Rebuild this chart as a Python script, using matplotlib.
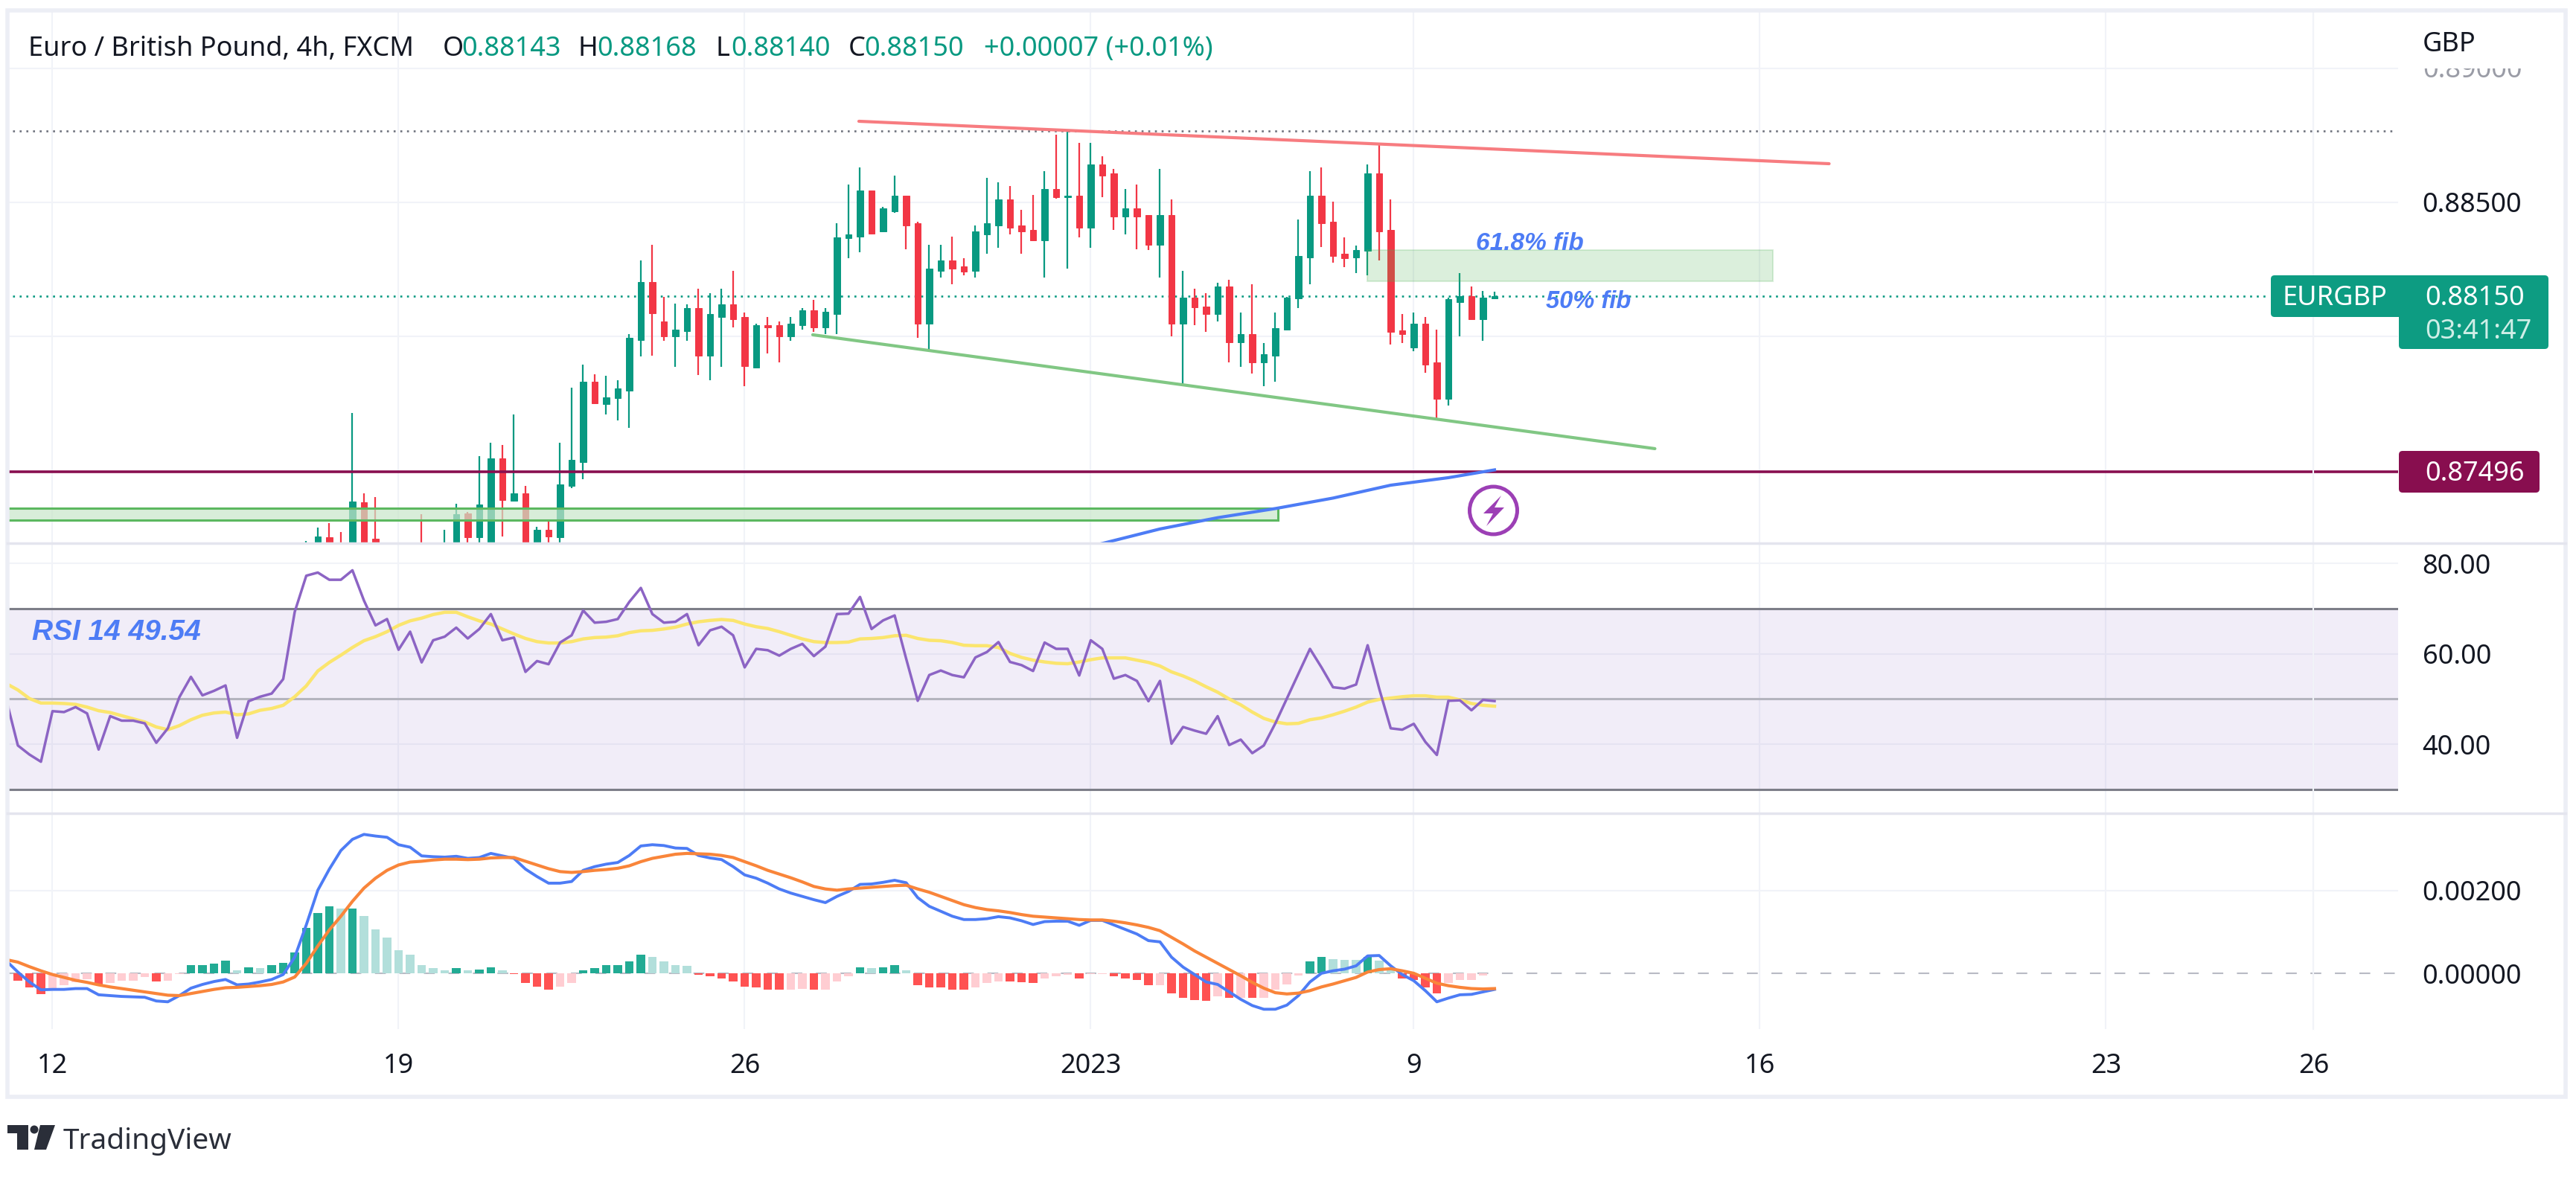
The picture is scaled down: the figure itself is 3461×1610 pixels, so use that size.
import numpy as np
import matplotlib
matplotlib.use("Agg")
import matplotlib.pyplot as plt
from matplotlib.patches import Rectangle, Polygon, Circle, FancyBboxPatch

plt.rcParams['font.family'] = ['Noto Sans', 'DejaVu Sans']

#------------ data input --------------------
# every 4h bar has an index, candles are visible from bar 26 on
first_candle = 26

# prices in 1/100000
open_p = [87200, 87200, 87253, 87220, 87200, 87384, 87249, 87200, 87210, 87195, 87220, 87200, 87200,
          87215, 87341, 87253, 87210, 87547, 87388, 87417, 87210, 87280, 87253, 87443, 87534, 87831,
          87750, 87770, 87800, 87988, 88204, 88057, 88001, 88021, 88106, 87929, 88073, 88121, 88073,
          87885, 88042, 88042, 88001, 88042, 88097, 88035, 88083, 88366, 88373, 88543, 88391, 88468,
          88526, 88422, 88049, 88244, 88284, 88261, 88244, 88381, 88414, 88511, 88414, 88397, 88358,
          88550, 88519, 88526, 88405, 88641, 88609, 88447, 88479, 88454, 88341, 88454, 88049, 88145,
          88113, 88083, 88188, 87978, 88010, 87904, 87930, 88027, 88142, 88294, 88526, 88428, 88309,
          88294, 88320, 88609, 88397, 88024, 87959, 88049, 87904, 87769, 88130, 88151, 88066, 88143]
high_p = [87240, 87289, 87306, 87273, 87717, 87417, 87404, 87220, 87225, 87228, 87338, 87225, 87280,
          87378, 87347, 87554, 87604, 87596, 87711, 87443, 87293, 87316, 87604, 87809, 87897, 87861,
          87855, 87839, 88009, 88283, 88341, 88149, 88123, 88119, 88179, 88162, 88179, 88244, 88090,
          88048, 88074, 88057, 88074, 88107, 88138, 88106, 88422, 88567, 88631, 88543, 88482, 88600,
          88526, 88428, 88341, 88341, 88373, 88292, 88414, 88592, 88575, 88560, 88471, 88527, 88617,
          88753, 88767, 88722, 88722, 88673, 88624, 88550, 88567, 88454, 88624, 88511, 88244, 88179,
          88162, 88202, 88211, 88089, 88196, 87976, 88089, 88149, 88437, 88617, 88631, 88504, 88371,
          88340, 88640, 88716, 88511, 88083, 88089, 88072, 88027, 88145, 88236, 88187, 88171, 88168]
low_p = [87200, 87200, 87200, 87200, 87200, 87200, 87200, 87190, 87190, 87190, 87190, 87190, 87190,
         87190, 87200, 87200, 87200, 87257, 87388, 87200, 87200, 87200, 87200, 87436, 87469, 87750,
         87711, 87687, 87661, 87927, 87929, 87985, 87887, 87985, 87857, 87839, 87887, 88035, 87815,
         87881, 87937, 87904, 87985, 88025, 88018, 88009, 88010, 88292, 88315, 88381, 88388, 88462,
         88326, 87995, 87947, 88221, 88196, 88228, 88221, 88309, 88332, 88381, 88309, 88355, 88221,
         88513, 88253, 88371, 88332, 88518, 88397, 88381, 88326, 88324, 88221, 88002, 87821, 88043,
         88018, 88058, 87904, 87888, 87863, 87815, 87832, 88024, 88106, 88196, 88334, 88275, 88258,
         88236, 88228, 88284, 87970, 87976, 87945, 87865, 87696, 87744, 88002, 88066, 87985, 88140]
close_p = [87220, 87256, 87200, 87200, 87387, 87200, 87200, 87210, 87195, 87215, 87200, 87215, 87225,
           87338, 87253, 87375, 87547, 87391, 87417, 87210, 87280, 87257, 87449, 87541, 87831, 87753,
           87774, 87806, 87995, 88204, 88086, 88001, 88025, 88106, 87929, 88084, 88121, 88066, 87890,
           88044, 88035, 88001, 88048, 88099, 88035, 88093, 88371, 88381, 88543, 88383, 88479, 88526,
           88414, 88049, 88253, 88284, 88253, 88241, 88391, 88422, 88511, 88405, 88391, 88358, 88550,
           88518, 88526, 88405, 88641, 88601, 88447, 88479, 88447, 88341, 88454, 88049, 88145, 88108,
           88083, 88188, 87978, 88010, 87904, 87936, 88032, 88145, 88300, 88526, 88422, 88301, 88292,
           88324, 88609, 88391, 88018, 88010, 88049, 87896, 87769, 88140, 88151, 88066, 88145, 88150]

# moving average under the chart
ma_bars = [95, 100, 105, 110, 115, 120, 125, 129]
ma_vals = [87230, 87284, 87326, 87360, 87399, 87447, 87475, 87504]

# RSI and its average, from bar 0
rsi = [49.8, 39.7, 37.7, 36.1, 47.3, 47.1, 48.2, 46.8, 38.8, 46.2, 45.2, 45.2, 44.6, 40.3, 43.5, 50.4, 54.9,
       50.8, 51.8, 53, 41.4, 49.5, 50.5, 51.2, 54.4, 69.3, 77.3, 78, 76.4, 76.4, 78.5, 71.8, 66.3, 67.7, 60.9,
       64.9, 58.1, 63, 63.8, 65.8, 63.4, 65.5, 68.8, 63, 63.6, 56, 58.4, 57.7, 62.5, 64.1, 69.6, 66.9, 67.1,
       67.7, 71.5, 74.6, 68.8, 66.9, 67.1, 68.8, 61.9, 65.2, 66, 64.1, 57, 61.1, 60.8, 59.6, 61.1, 62.2, 59.5,
       61.6, 68.8, 68.9, 72.6, 65.5, 67.4, 68.5, 58.9, 49.6, 55.3, 56.3, 55.3, 54.8, 59.2, 60.4, 62.6, 58.2,
       57.5, 56.2, 62.5, 61.1, 61.1, 55.2, 63, 61.1, 54.5, 55.3, 54, 49.5, 54, 40.1, 43.8, 43, 42.3, 46.2,
       39.8, 41, 38, 39.7, 44.6, 50.1, 55.6, 61.1, 57, 52.6, 52.3, 53.2, 61.9, 52.3, 43.5, 43.2, 44.5, 40.5,
       37.6, 49.6, 49.7, 47.5, 49.8, 49.54]
rsi_ma = [53.4, 52, 50.1, 49.1, 49.1, 49, 48.8, 48.2, 47.4, 47, 46.3, 45.6, 44.9, 43.8, 43.2, 44.1, 45.4, 46.4,
          46.9, 47.1, 46.5, 46.7, 47.5, 47.9, 48.6, 50.5, 52.9, 56.2, 58.1, 59.7, 61.4, 62.9, 63.8, 64.9, 66.3,
          67.3, 67.9, 68.7, 69.2, 69.2, 68.2, 67.3, 66.6, 65.5, 64.4, 63.4, 62.7, 62.4, 62.4, 62.7, 63.3, 63.6,
          63.7, 64, 64.7, 65.1, 65.2, 65.5, 65.9, 66.6, 67.1, 67.4, 67.6, 67.4, 66.6, 66, 65.6, 64.9, 64.1, 63.3,
          62.7, 62.5, 62.5, 62.6, 63.3, 63.4, 63.6, 64, 64.1, 63.4, 63, 62.9, 62.5, 61.9, 61.8, 61.8, 61.4, 60.1,
          59.2, 58.6, 58.2, 57.9, 57.8, 58.2, 58.7, 59.1, 59.1, 59.1, 58.6, 58.1, 57.3, 56, 55.1, 54, 52.7, 51.5,
          50, 48.7, 47.1, 45.7, 44.9, 44.5, 44.6, 45.4, 45.8, 46.5, 47.3, 48.2, 49.3, 49.9, 50.2, 50.5, 50.7,
          50.7, 50.4, 50.4, 49.8, 49, 48.6, 48.4]

# MACD in 1/100000
macd = [30, 3, -21, -40, -39, -39, -37, -37, -52, -54, -56, -57, -58, -67, -69, -54, -36, -27, -20, -15, -28,
        -26, -21, -15, -3, 39, 117, 201, 252, 297, 324, 336, 332, 329, 311, 305, 284, 282, 281, 283, 278, 280,
        290, 284, 278, 252, 234, 218, 218, 222, 249, 258, 264, 268, 285, 308, 311, 309, 303, 302, 285, 279,
        275, 258, 238, 230, 218, 204, 194, 186, 178, 171, 186, 198, 215, 216, 220, 225, 219, 183, 162, 150,
        138, 130, 130, 132, 137, 134, 127, 118, 125, 126, 126, 116, 128, 128, 117, 106, 95, 79, 76, 39, 15,
        -3, -21, -27, -45, -63, -78, -87, -87, -77, -54, -21, 0, 6, 10, 18, 42, 43, 18, -3, -18, -42, -69,
        -60, -52, -51, -45, -39]
signal = [33, 27, 16, 6, -3, -10, -17, -22, -28, -33, -37, -41, -45, -49, -53, -54, -49, -44, -39, -35, -34,
          -32, -30, -27, -21, -9, 24, 66, 105, 138, 174, 206, 230, 249, 262, 269, 271, 274, 276, 276, 275, 276,
          279, 280, 280, 271, 262, 253, 246, 244, 246, 249, 251, 254, 260, 270, 278, 283, 288, 290, 289, 288,
          285, 280, 270, 260, 249, 240, 231, 221, 210, 204, 201, 204, 206, 208, 210, 212, 213, 204, 196, 186,
          176, 166, 159, 154, 151, 147, 142, 138, 136, 134, 132, 130, 129, 129, 126, 122, 117, 111, 103, 87,
          71, 54, 39, 24, 9, -6, -22, -36, -47, -50, -48, -42, -33, -26, -18, -10, 3, 9, 11, 6, 0, -12, -24,
          -30, -34, -37, -38, -37]
hist = [0, -18, -34, -51, -36, -29, -21, -15, -27, -24, -18, -18, -9, -19, -18, -1, 19, 19.5, 24, 30, 8, 14, 13,
        19, 25, 51, 109, 145, 162, 156, 157, 139, 107, 87, 55, 45, 19, 13, 7, 13, 8, 9, 14, 8, -1, -23, -33,
        -39, -33, -23, 7, 13, 19, 20, 29, 45, 40, 29, 19, 18, -3, -7, -13, -19, -33, -34, -39, -40, -39, -38,
        -40, -39, -19, -7, 14, 13, 14, 19, 8, -28, -34, -35, -39, -40, -34, -23, -19, -20, -21, -23, -12, -7,
        -3, -12, -1, -1, -7, -12, -17, -29, -28, -48, -60, -65, -66, -55, -60, -59, -60, -59, -39, -27, -5,
        29, 40, 34, 33, 32, 40, 31, 10, -13, -17, -34, -48, -23, -17, -16, -5, 0]

# drawings on the chart
high_line = 0.88766
last_price = 0.88150
stop_level = 0.87496
red_trend_x = [73.9, 158]
red_trend_y = [0.88802, 0.88644]
green_trend_x = [69.9, 142.9]
green_trend_y = [0.88007, 0.87583]
fib_zone = [118, 153.1, 0.88205, 0.88324]
low_zone = [0, 110.2, 0.87317, 0.87360]

date_ticks = [4, 34, 64, 94, 122, 152, 182, 200]
date_labels = ['12', '19', '26', '2023', '9', '16', '23', '26']

#------------ colours --------------------
UP = '#089981'
DOWN = '#f23645'
GRID = '#f1f3f8'
BORDER = '#eceef5'
INK = '#131722'
NOTE = '#4d7cf5'

W, H = 3462, 1610
LEFT, RIGHT = 10, 3222
fig = plt.figure(figsize=(W / 100, H / 100), dpi=100, facecolor='white')


def pane(top, bottom):
    ax = fig.add_axes([LEFT / W, 1 - bottom / H, (RIGHT - LEFT) / W, (bottom - top) / H])
    ax.set_xlim((LEFT - 8.5) / 15.5, (RIGHT - 8.5) / 15.5)
    for s in ax.spines.values():
        s.set_visible(False)
    ax.yaxis.tick_right()
    ax.tick_params(axis='y', length=0, pad=23.5, labelsize=26, labelcolor=INK)
    ax.set_xticks([])
    for b in date_ticks:
        ax.axvline(b, color=GRID, lw=1.5, zorder=0)
    return ax


ax_p = pane(15, 730)
ax_r = pane(730, 1093)
ax_m = pane(1093, 1383)

#------------ price pane --------------------
ax_p.set_ylim(0.87231, 0.89212)
ax_p.set_yticks([0.885], ['0.88500'])
for lv in [0.89, 0.885, 0.88]:
    ax_p.axhline(lv, color=GRID, lw=1.5, zorder=0)

x_c = np.arange(first_candle, first_candle + len(open_p))
o = np.array(open_p) / 1e5
h = np.array(high_p) / 1e5
l = np.array(low_p) / 1e5
c = np.array(close_p) / 1e5
col = [UP if cc >= oo else DOWN for oo, cc in zip(o, c)]
ax_p.vlines(x_c, l, h, colors=col, lw=1.6, zorder=3)
ax_p.bar(x_c, np.abs(c - o), bottom=np.minimum(o, c), width=0.55, color=col, edgecolor=col, lw=0.7, zorder=3)

ax_p.plot([0, 207], [high_line] * 2, color='#6f727d', lw=1.9, ls=(0, (1, 2.4)), zorder=2)
ax_p.plot([0, 195.9], [last_price] * 2, color=UP, lw=1.9, ls=(0, (1, 2.4)), zorder=2)
ax_p.axhline(stop_level, color='#880e4f', lw=2.6, zorder=4)

ax_p.plot(red_trend_x, red_trend_y, color='#f77c80', lw=3, solid_capstyle='round', zorder=5)
ax_p.plot(green_trend_x, green_trend_y, color='#81c784', lw=3, solid_capstyle='round', zorder=5)

ax_p.add_patch(Rectangle((fib_zone[0], fib_zone[2]), fib_zone[1] - fib_zone[0], fib_zone[3] - fib_zone[2],
                         facecolor='#4caf50', alpha=0.2, edgecolor='#4caf50', lw=1.5, zorder=4))
ax_p.add_patch(Rectangle((low_zone[0], low_zone[2]), low_zone[1] - low_zone[0], low_zone[3] - low_zone[2],
                         facecolor='#c8e6c9', alpha=0.7, edgecolor='none', zorder=4))
ax_p.add_patch(Rectangle((low_zone[0], low_zone[2]), low_zone[1] - low_zone[0], low_zone[3] - low_zone[2],
                         facecolor='none', edgecolor='#5cb860', lw=2.2, zorder=4))
ax_p.plot(ma_bars, np.array(ma_vals) / 1e5, color='#4d7cf5', lw=3, zorder=5)

#------------ RSI pane --------------------
ax_r.set_ylim(24.68, 84.5)
ax_r.set_yticks([80, 60, 40], ['80.00', '60.00', '40.00'])
for lv in [80, 60, 40]:
    ax_r.axhline(lv, color=GRID, lw=1.5, zorder=0)
ax_r.axhspan(30, 70, color='#7e57c2', alpha=0.1, lw=0, zorder=1)
ax_r.axhline(70, color='#7d7e88', lw=2.2, zorder=2)
ax_r.axhline(50, color='#b4b4be', lw=2.2, zorder=2)
ax_r.axhline(30, color='#7d7e88', lw=2.2, zorder=2)
bars = np.arange(len(rsi))
ax_r.plot(bars, rsi_ma, color='#fbe56e', lw=3.2, zorder=3)
ax_r.plot(bars, rsi, color='#8c64c4', lw=2.5, zorder=4)

#------------ MACD pane --------------------
ax_m.set_ylim(-0.00135, 0.00387)
ax_m.set_yticks([0.002, 0], ['0.00200', '0.00000'])
ax_m.axhline(0.002, color=GRID, lw=1.5, zorder=0)
ax_m.axhline(0, color='#b8bac4', lw=1.5, ls=(0, (7, 8.8)), zorder=1)
hist_a = np.array(hist, dtype=float)
hist_col = []
for i, v in enumerate(hist_a):
    prev = hist_a[i - 1] if i else 0
    if v >= 0:
        hist_col.append('#22ab94' if v >= prev else '#b2dfdb')
    else:
        hist_col.append('#ff5252' if v < prev else '#ffcdd2')
ax_m.bar(bars, hist_a / 1e5, width=0.72, color=hist_col, zorder=2)
ax_m.plot(bars, np.array(macd) / 1e5, color='#4d7cf5', lw=2.8, zorder=3)
ax_m.plot(bars, np.array(signal) / 1e5, color='#f9853a', lw=3, zorder=4)
ax_m.set_xticks(date_ticks, date_labels)
ax_m.tick_params(axis='x', length=0, pad=23, labelsize=26, labelcolor=INK)
ax_m.get_xticklabels()[3].set_fontweight('bold')

#------------ frame, tags and texts in pixels --------------------
top = fig.add_axes([0, 0, 1, 1], facecolor='none')
top.set_xlim(0, W)
top.set_ylim(H, 0)
top.axis('off')

top.add_patch(Rectangle((10, 14.5), 3437, 1459, fill=False, edgecolor=BORDER, lw=4))
top.plot([10, 3447], [730, 730], color='#e4e5ee', lw=2.5)
top.plot([10, 3447], [1093, 1093], color='#e4e5ee', lw=2.5)
top.axvline(3108.5, ymin=1 - 1383 / H, ymax=1 - 15 / H, color=GRID, lw=1.5, zorder=0)

# half hidden top label
top.text(3255, 95, '0.89000', fontsize=26, color='#9a9ca6', va='center', ha='left', zorder=1)
top.add_patch(Rectangle((3240, 50), 190, 42, facecolor='white', edgecolor='none', zorder=2))
top.text(3255, 60, 'GBP', fontsize=26, color=INK, va='center', ha='left', zorder=3)

# header
y_head = 66
top.text(38, y_head, 'Euro / British Pound, 4h, FXCM', fontsize=26, color=INK, va='center')
for lab, lx, val, vx in [('O', 595, '0.88143', 620), ('H', 777, '0.88168', 802),
                         ('L', 962, '0.88140', 982), ('C', 1140, '0.88150', 1161)]:
    top.text(lx, y_head, lab, fontsize=26, color=INK, va='center')
    top.text(vx, y_head, val, fontsize=26, color=UP, va='center')
top.text(1322, y_head, '+0.00007 (+0.01%)', fontsize=26, color=UP, va='center')

# price tags
top.add_patch(FancyBboxPatch((3053, 372), 369, 52, boxstyle='round,pad=2,rounding_size=5', facecolor='#0d9c82', edgecolor='none', zorder=5))
top.add_patch(FancyBboxPatch((3225, 400), 197, 67, boxstyle='round,pad=2,rounding_size=5', facecolor='#0d9c82', edgecolor='none', zorder=5))
top.text(3067, 401, 'EURGBP', fontsize=26, color='white', va='center', zorder=6)
top.text(3258, 401, '0.88150', fontsize=26, color='white', va='center', zorder=6)
top.text(3258, 446, '03:41:47', fontsize=26, color='#cfeee7', va='center', zorder=6)
top.add_patch(FancyBboxPatch((3225, 608), 185, 52, boxstyle='round,pad=2,rounding_size=5', facecolor='#880e4f', edgecolor='none', zorder=5))
top.text(3258, 637, '0.87496', fontsize=26, color='white', va='center', zorder=6)

# notes
note = dict(color=NOTE, style='italic', weight='bold', family=['Liberation Sans', 'DejaVu Sans'], va='center')
top.text(43, 850, 'RSI 14 49.54', fontsize=28, **note)
top.text(1983, 327, '61.8% fib', fontsize=24, **note)
top.text(2077, 405, '50% fib', fontsize=23.5, **note)

# flash icon
top.add_patch(Circle((2006.5, 686), 32, fill=False, edgecolor='#9c3fb5', lw=3.6))
top.add_patch(Polygon([(2017, 666), (1993, 690), (2006, 690), (1997, 707), (2021, 682), (2008, 682)],
                      closed=True, facecolor='#9c3fb5', edgecolor='none'))

# logo
LOGO = '#2a2e39'
top.add_patch(Polygon([(10, 1512), (38, 1512), (38, 1545), (23, 1545), (23, 1523), (10, 1523)], closed=True, facecolor=LOGO, edgecolor='none'))
top.add_patch(Circle((46, 1518), 5.5, facecolor=LOGO, edgecolor='none'))
top.add_patch(Polygon([(54, 1512), (74, 1512), (62, 1545), (46, 1545)], closed=True, facecolor=LOGO, edgecolor='none'))
top.text(85, 1534, 'TradingView', fontsize=28, color=LOGO, va='center', weight='medium')

fig.savefig('out.png', dpi=100, facecolor='white')
